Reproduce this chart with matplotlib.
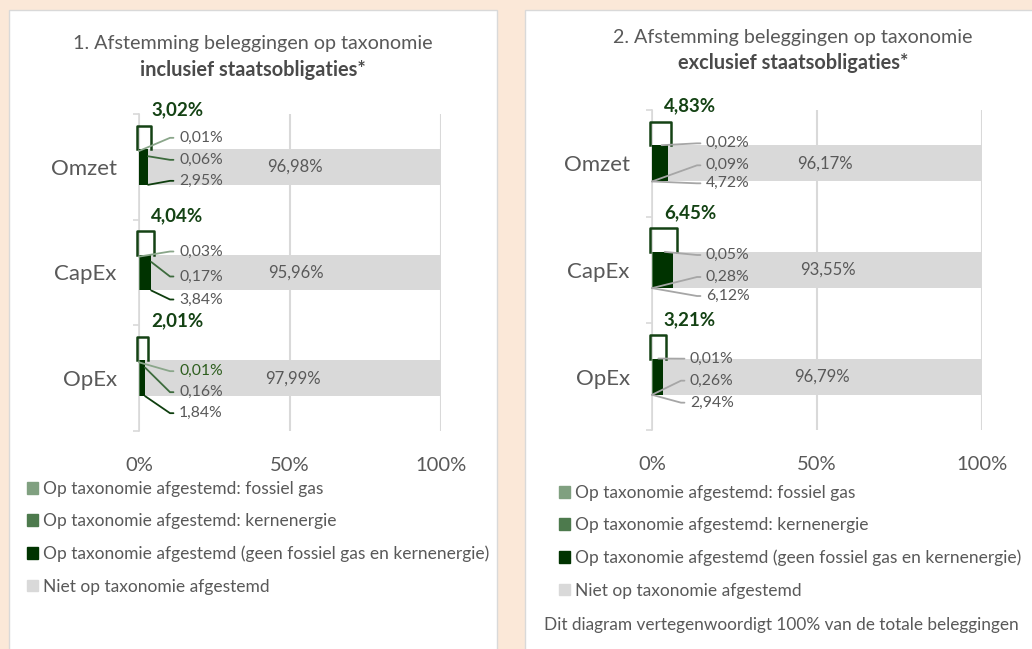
import matplotlib
matplotlib.use('Agg')
import matplotlib.pyplot as plt
from matplotlib.patches import Rectangle
from matplotlib.transforms import offset_copy

# ---------------- data ----------------
categories = ['Omzet', 'CapEx', 'OpEx']
series_names = ['Op taxonomie afgestemd: fossiel gas',
                'Op taxonomie afgestemd: kernenergie',
                'Op taxonomie afgestemd (geen fossiel gas en kernenergie)',
                'Niet op taxonomie afgestemd']

incl_fossil = [0.01, 0.03, 0.01]
incl_nuclear = [0.06, 0.17, 0.16]
incl_aligned = [2.95, 3.84, 1.84]
incl_not = [96.98, 95.96, 97.99]
incl_total = [3.02, 4.04, 2.01]

excl_fossil = [0.02, 0.05, 0.01]
excl_nuclear = [0.09, 0.28, 0.26]
excl_aligned = [4.72, 6.12, 2.94]
excl_not = [96.17, 93.55, 96.79]
excl_total = [4.83, 6.45, 3.21]

x_ticks = [0, 50, 100]
x_ticklabels = ['0%', '50%', '100%']

title1 = ['1. Afstemming beleggingen op taxonomie', 'inclusief staatsobligaties*']
title2 = ['2. Afstemming beleggingen op taxonomie', 'exclusief staatsobligaties*']
footer = 'Dit diagram vertegenwoordigt 100% van de totale beleggingen'

# ---------------- style ----------------
W, H = 1032, 649
BG = '#FBE8D8'
C_FOSSIL = '#80A080'
C_NUC = '#4D7A4D'
C_ALIGN = '#003300'
C_NOT = '#D9D9D9'
C_TEXT = '#595959'
C_TOTAL = '#144214'
C_GRID = '#D9D9D9'
FONT = 'Lato'
plt.rcParams['font.family'] = [FONT, 'DejaVu Sans']

fig = plt.figure(figsize=(W / 100, H / 100), dpi=100, facecolor=BG)


def fx(x):
    return x / W


def fy(y):
    return 1 - y / H


# panels
fig.patches.append(Rectangle((fx(9), -0.05), fx(488), fy(10) + 0.05, transform=fig.transFigure,
                             facecolor='white', edgecolor='#D9D9D9', lw=1, zorder=-5))
fig.patches.append(Rectangle((fx(525), -0.05), fx(520), fy(10) + 0.05, transform=fig.transFigure,
                             facecolor='white', edgecolor='#D9D9D9', lw=1, zorder=-5))

BAR_H = 0.34


def fmt(v):
    return f"{v:.2f}".replace('.', ',') + '%'


def draw(ax, fossil, nuclear, aligned, notal, total, lab_dx, lab_dy, line_cols, style,
         text_cols):
    ys = list(range(len(categories)))
    l2 = [a for a in fossil]
    l3 = [a + b for a, b in zip(fossil, nuclear)]
    l4 = [a + b + c for a, b, c in zip(fossil, nuclear, aligned)]
    ax.barh(ys, fossil, left=0, height=BAR_H, color=C_FOSSIL, zorder=3)
    ax.barh(ys, nuclear, left=l2, height=BAR_H, color=C_NUC, zorder=3)
    ax.barh(ys, aligned, left=l3, height=BAR_H, color=C_ALIGN, zorder=3)
    ax.barh(ys, notal, left=l4, height=BAR_H, color=C_NOT, zorder=2)
    ax.set_xlim(0, 100)
    ax.set_ylim(len(categories) - 0.5, -0.5)
    ax.set_facecolor('none')
    for s in ['top', 'right', 'bottom']:
        ax.spines[s].set_visible(False)
    ax.spines['left'].set_color(C_GRID)
    ax.spines['left'].set_linewidth(1.2)
    ax.set_xticks(x_ticks)
    ax.set_xticklabels(x_ticklabels)
    ax.set_yticks(ys)
    ax.set_yticklabels(categories)
    ax.set_yticks([y - 0.5 for y in ys] + [ys[-1] + 0.5], minor=True)
    ax.tick_params(axis='y', which='major', length=0, pad=16, labelsize=16, labelcolor=C_TEXT)
    ax.tick_params(axis='y', which='minor', length=4, color=C_GRID, width=1.2)
    ax.tick_params(axis='x', length=0, pad=19, labelsize=14.5, labelcolor=C_TEXT)
    ax.xaxis.grid(True, color=C_GRID, lw=1.5, zorder=0)
    ax.set_axisbelow(True)

    for i, y in enumerate(ys):
        top = y - BAR_H / 2
        bot = y + BAR_H / 2
        # remaining share label
        ax.text((l4[i] + 100) / 2, y, fmt(notal[i]), ha='center', va='center',
                fontsize=12, color=C_TEXT, zorder=5)
        # bracket above aligned part
        bx0, bx1 = -0.6, total[i] + 1.0
        bt = top - 0.22
        ax.plot([bx0, bx0, bx1, bx1], [top, bt, bt, top], color=C_TOTAL, lw=1.8,
                solid_joinstyle='round', clip_on=False, zorder=6)
        # total label
        tr = offset_copy(ax.transData, fig=fig, x=38, y=39, units='dots')
        ax.text(0, top, fmt(total[i]), transform=tr, ha='center', va='center',
                fontsize=13.5, fontweight='bold', color=C_TOTAL, zorder=6)
        # small labels with leader lines
        vals = [fossil[i], nuclear[i], aligned[i]]
        if style == 'left':
            targets = [(0, top + 0.02), (total[i], y - 0.1), (total[i], bot)]
        else:
            targets = [(total[i] * 0.6, top), (0, bot), (0, bot)]
        for k in range(3):
            tc = offset_copy(ax.transData, fig=fig, x=lab_dx[i], y=-lab_dy[i][k], units='dots')
            ax.annotate(fmt(vals[k]), xy=targets[k], xycoords='data',
                        xytext=(0, y), textcoords=tc, ha='left', va='center',
                        fontsize=11.3, color=text_cols[i][k], zorder=7,
                        arrowprops=dict(arrowstyle='-', color=line_cols[k], lw=1.3,
                                        shrinkA=2, shrinkB=0, relpos=(0, 0.5),
                                        connectionstyle='arc,angleA=180,angleB=0,armA=9,armB=0,rad=0'))


# left chart
ax1 = fig.add_axes([fx(139), fy(431), fx(302), (431 - 114) / H])
draw(ax1, incl_fossil, incl_nuclear, incl_aligned, incl_not, incl_total,
     lab_dx=[40, 40, 40],
     lab_dy=[[-29, -7, 14], [-21, 4, 27], [-7, 14, 35]],
     line_cols=['#8AA68A', '#3D6B3D', '#0E3E0E'], style='left',
     text_cols=[[C_TEXT] * 3, [C_TEXT] * 3, ['#2E5E1E', C_TEXT, C_TEXT]])

# right chart
ax2 = fig.add_axes([fx(652), fy(430), fx(330), (430 - 110) / H])
draw(ax2, excl_fossil, excl_nuclear, excl_aligned, excl_not, excl_total,
     lab_dx=[54, 54, 38],
     lab_dy=[[-20, 2, 20], [-15, 7, 26], [-18, 4, 26]],
     line_cols=['#A6A6A6', '#A6A6A6', '#A6A6A6'], style='right',
     text_cols=[[C_TEXT] * 3] * 3)

# titles
for cx, t, y0 in [(253, title1, 44), (793, title2, 37)]:
    fig.text(fx(cx), fy(y0), t[0], ha='center', va='center', fontsize=14.2, color=C_TEXT)
    fig.text(fx(cx), fy(y0 + 26), t[1], ha='center', va='center', fontsize=14.4,
             fontweight='bold', color='#4A4A4A')

# legends
handles = [Rectangle((0, 0), 1, 1, color=c) for c in [C_FOSSIL, C_NUC, C_ALIGN, C_NOT]]
for lx, ly in [(27, 481), (559, 485)]:
    fig.legend(handles, series_names, loc='upper left', bbox_to_anchor=(fx(lx), fy(ly)),
               frameon=False, fontsize=12.5, labelcolor=C_TEXT, handlelength=0.65,
               handleheight=0.65, handletextpad=0.3, labelspacing=0.94, borderaxespad=0,
               borderpad=0)

fig.text(fx(781), fy(625), footer, ha='center', va='center', fontsize=12.4, color=C_TEXT)

fig.savefig('out.png', dpi=100, facecolor=BG)
